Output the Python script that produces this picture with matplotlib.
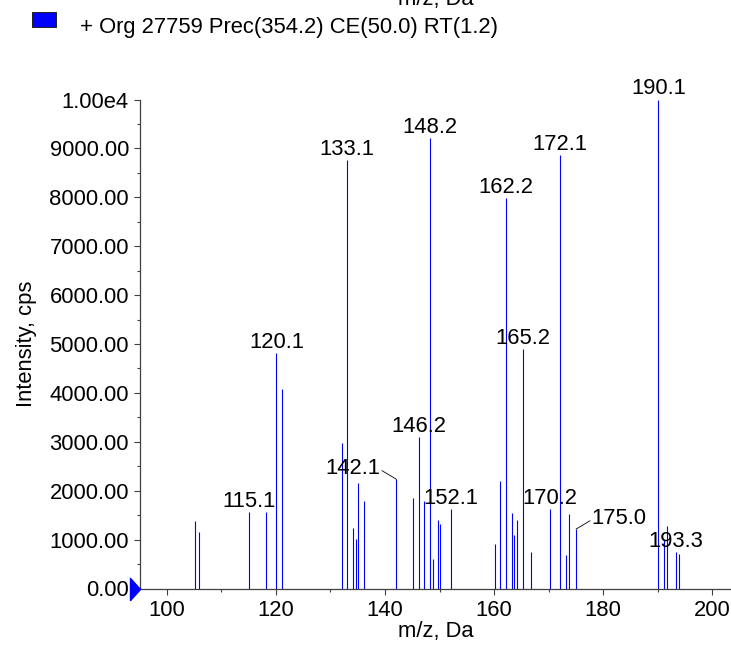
import matplotlib
matplotlib.use("Agg")
import matplotlib.pyplot as plt
from matplotlib.ticker import MultipleLocator, FuncFormatter
from matplotlib.patches import Rectangle

plt.rcParams['font.family'] = ['Liberation Sans', 'DejaVu Sans']

# peak list
mz = [105.1, 106.0, 115.1, 118.1, 120.1, 121.1, 132.1, 133.1, 134.1, 134.6,
      135.1, 136.1, 142.1, 145.1, 146.2, 147.2, 148.2, 148.8, 149.7, 150.1,
      152.1, 160.2, 161.1, 162.2, 163.2, 163.7, 164.1, 165.2, 166.8, 170.2,
      172.1, 173.1, 173.7, 175.0, 190.1, 191.2, 191.7, 193.3, 193.8]
intensity = [1373, 1165, 1574, 1560, 4820, 4078, 2968, 8773, 1234, 1006,
             2164, 1782, 2233, 1859, 3107, 1782, 9209, 610, 1394, 1311,
             1623, 902, 2198, 7989, 1540, 1089, 1408, 4903, 742, 1623,
             8863, 693, 1526, 1214, 10000, 1000, 1280, 746, 705]

labelled = [115.1, 120.1, 133.1, 142.1, 146.2, 148.2, 152.1, 162.2, 165.2,
            170.2, 172.1, 175.0, 190.1, 193.3]

legend_text = "+ Org 27759 Prec(354.2) CE(50.0) RT(1.2)"

fs = 15.8
px = 0.72  # points per pixel at dpi 100

fig = plt.figure(figsize=(7.31, 6.45), dpi=100)
ax = fig.add_axes([140 / 731, 56.5 / 645, 591 / 731, 489 / 645])

ax.vlines(mz, 0, intensity, colors='#0000ff', lw=0.8)

for m, h in zip(mz, intensity):
    if m not in labelled:
        continue
    lab = f"{m:.1f}"
    if lab == "142.1":
        ax.annotate(lab, (m, h), xytext=(-16 * px, 5.4 * px), textcoords='offset points',
                    ha='right', va='baseline', fontsize=fs, annotation_clip=False)
        ax.annotate('', (m, h), xytext=(-14.6 * px, 8.7 * px), textcoords='offset points',
                    arrowprops=dict(arrowstyle='-', color='k', lw=0.6, shrinkA=0, shrinkB=0))
    elif lab == "175.0":
        ax.annotate(lab, (m, h), xytext=(15.7 * px, 5 * px), textcoords='offset points',
                    ha='left', va='baseline', fontsize=fs, annotation_clip=False)
        ax.annotate('', (m, h), xytext=(14 * px, 8.4 * px), textcoords='offset points',
                    arrowprops=dict(arrowstyle='-', color='k', lw=0.6, shrinkA=0, shrinkB=0))
    else:
        ax.annotate(lab, (m, h), xytext=(0, 5 * px), textcoords='offset points',
                    ha='center', va='baseline', fontsize=fs, annotation_clip=False)

ax.set_xlim(95.1, 203.4)
ax.set_ylim(0, 10000)

ax.xaxis.set_major_locator(MultipleLocator(20))
ax.xaxis.set_minor_locator(MultipleLocator(10))
ax.yaxis.set_major_locator(MultipleLocator(1000))
ax.yaxis.set_minor_locator(MultipleLocator(500))
ax.yaxis.set_major_formatter(FuncFormatter(lambda v, p: "1.00e4" if v >= 10000 else f"{v:.2f}"))

for s in ['top', 'right']:
    ax.spines[s].set_visible(False)
for s in ['left', 'bottom']:
    ax.spines[s].set_color('#404040')
    ax.spines[s].set_linewidth(0.9)

ax.tick_params(which='major', direction='out', length=4.5, width=0.8, pad=3.5,
               labelsize=fs, color='#404040')
ax.tick_params(which='minor', direction='out', length=2.2, width=0.8, color='#404040')

ax.set_xlabel("m/z, Da", fontsize=fs)
ax.set_ylabel("Intensity, cps", fontsize=fs)
ax.xaxis.set_label_coords(0.5, -0.066)
ax.xaxis.label.set_va('top')
ax.yaxis.set_label_coords(-0.174, 0.5)

# blue triangle marking zero level on the intensity axis
tri = [(-0.9, -1.0), (0.0, 0.0), (-0.9, 1.0), (-0.9, -1.0)]
ax.plot([ax.get_xlim()[0]], [0], marker=tri, ms=16, color='#0000ff',
        mec='#0000ff', clip_on=False, zorder=5)

# legend box and clipped axis title at the top
fig.patches.append(Rectangle((32 / 731, 1 - 27 / 645), 24 / 731, 15 / 645,
                             transform=fig.transFigure, facecolor='#0000ff',
                             edgecolor='#202020', lw=0.7))
fig.text(80 / 731, 1 - 32.5 / 645, legend_text, fontsize=fs, va='baseline', ha='left')
fig.text(435.5 / 731, 1 - 5 / 645, "m/z, Da", fontsize=fs, va='baseline', ha='center')

fig.savefig("out.png", dpi=100)
